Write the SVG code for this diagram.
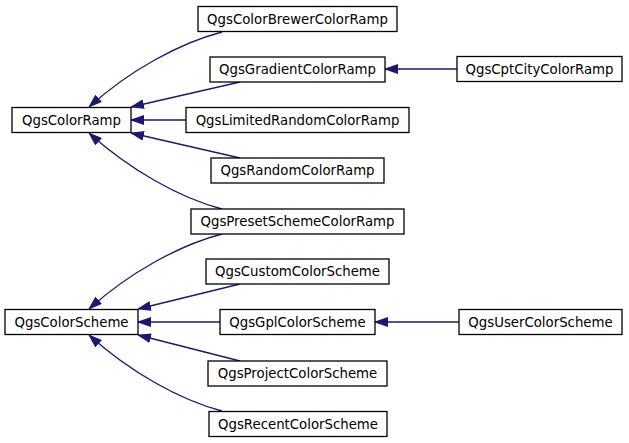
<svg xmlns="http://www.w3.org/2000/svg" width="629" height="443" viewBox="0 0 629 443">
<defs>
<style>
.n rect{fill:#fff;stroke:#000;stroke-width:1.3}
.n text{font-family:"DejaVu Sans",sans-serif;font-size:13.3px;text-anchor:middle;fill:#000}
.e path{fill:none;stroke:#191970;stroke-width:1.3;marker-end:url(#ah)}
</style>
<marker id="ah" viewBox="0 0 13 9.4" refX="13" refY="4.7" markerWidth="13" markerHeight="9.4" markerUnits="userSpaceOnUse" orient="auto">
<path d="M0.6,0.6 L12.4,4.7 L0.6,8.8 z" fill="#191970" stroke="#191970" stroke-width="1.2"/>
</marker>
</defs>
<rect width="629" height="443" fill="#fff"/>
<g class="e">
<path d="M222,32 C180,43 130,70 89,107"/>
<path d="M240,82 L131,107"/>
<path d="M186,120 L131,120"/>
<path d="M240,158 L131,133"/>
<path d="M222,209 C180,198 130,170 89,133"/>
<path d="M457,69 L385,69"/>
<path d="M222,234 C180,245 130,272 89,309"/>
<path d="M240,284 L138,309"/>
<path d="M220,322 L138,322"/>
<path d="M240,361 L138,335"/>
<path d="M222,411 C180,400 130,372 89,335"/>
<path d="M459,322 L375,322"/>
</g>
<g id="QgsColorRamp" class="n"><rect x="12" y="107.5" width="119" height="25"/><text x="71.5" y="124.5">QgsColorRamp</text></g>
<g id="QgsColorBrewerColorRamp" class="n"><rect x="198" y="6.5" width="199" height="25"/><text x="297.5" y="23.5">QgsColorBrewerColorRamp</text></g>
<g id="QgsGradientColorRamp" class="n"><rect x="210" y="57" width="175" height="25"/><text x="297.5" y="74">QgsGradientColorRamp</text></g>
<g id="QgsCptCityColorRamp" class="n"><rect x="457" y="56.5" width="165" height="25"/><text x="539.5" y="73.5">QgsCptCityColorRamp</text></g>
<g id="QgsLimitedRandomColorRamp" class="n"><rect x="186" y="107.5" width="223" height="25"/><text x="297.5" y="124.5">QgsLimitedRandomColorRamp</text></g>
<g id="QgsRandomColorRamp" class="n"><rect x="211" y="158" width="173" height="25"/><text x="297.5" y="175">QgsRandomColorRamp</text></g>
<g id="QgsPresetSchemeColorRamp" class="n"><rect x="191" y="209" width="213" height="25"/><text x="297.5" y="226">QgsPresetSchemeColorRamp</text></g>
<g id="QgsColorScheme" class="n"><rect x="5" y="309.5" width="133" height="25"/><text x="71.5" y="326.5">QgsColorScheme</text></g>
<g id="QgsCustomColorScheme" class="n"><rect x="206" y="259" width="183" height="25"/><text x="297.5" y="276">QgsCustomColorScheme</text></g>
<g id="QgsGplColorScheme" class="n"><rect x="220" y="309.5" width="155" height="25"/><text x="297.5" y="326.5">QgsGplColorScheme</text></g>
<g id="QgsUserColorScheme" class="n"><rect x="459" y="309.5" width="163" height="25"/><text x="540.5" y="326.5">QgsUserColorScheme</text></g>
<g id="QgsProjectColorScheme" class="n"><rect x="208" y="361" width="179" height="25"/><text x="297.5" y="378">QgsProjectColorScheme</text></g>
<g id="QgsRecentColorScheme" class="n"><rect x="209" y="411.5" width="178" height="25"/><text x="298" y="428.5">QgsRecentColorScheme</text></g>
</svg>
